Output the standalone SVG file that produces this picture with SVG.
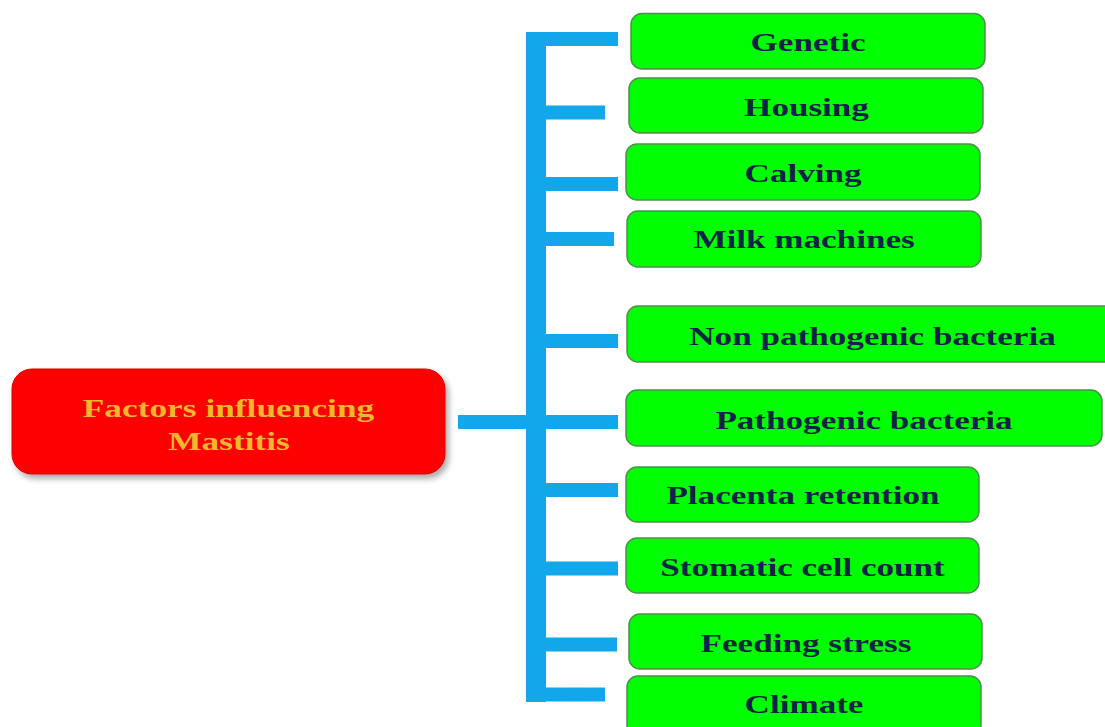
<svg xmlns="http://www.w3.org/2000/svg" width="1105" height="727" viewBox="0 0 1105 727">
<defs>
<filter id="shadow" x="-10%" y="-20%" width="125%" height="150%">
<feGaussianBlur in="SourceAlpha" stdDeviation="3"/>
<feOffset dx="3" dy="4" result="b"/>
<feComponentTransfer><feFuncA type="linear" slope="0.35"/></feComponentTransfer>
<feMerge><feMergeNode/><feMergeNode in="SourceGraphic"/></feMerge>
</filter>
</defs>
<style>
.box{fill:#00ff00;stroke:#4f8f4f;stroke-width:1.5}
.lbl{font-family:"Liberation Serif","Times New Roman",serif;font-weight:bold;font-size:26px;fill:#0f2346;text-anchor:middle}
.root{fill:#ff0000;stroke:#d40000;stroke-width:1}
.rlbl{font-family:"Liberation Serif","Times New Roman",serif;font-weight:bold;font-size:26px;fill:#f2b82c;text-anchor:middle}
.c{stroke:#12a6ea;stroke-width:14;fill:none}
</style>
<rect width="1105" height="727" fill="#ffffff"/>
<g id="connectors">
<line class="c" x1="536" y1="32" x2="536" y2="702" style="stroke-width:20"/>
<line class="c" x1="526" y1="39" x2="618" y2="39"/>
<line class="c" x1="526" y1="112.5" x2="605" y2="112.5"/>
<line class="c" x1="526" y1="184" x2="618" y2="184"/>
<line class="c" x1="526" y1="239" x2="614" y2="239"/>
<line class="c" x1="526" y1="341" x2="618" y2="341"/>
<line class="c" x1="458" y1="422" x2="618" y2="422"/>
<line class="c" x1="526" y1="490" x2="618" y2="490"/>
<line class="c" x1="526" y1="568.5" x2="618" y2="568.5"/>
<line class="c" x1="526" y1="644.5" x2="617" y2="644.5"/>
<line class="c" x1="526" y1="694.5" x2="605" y2="694.5"/>
</g>
<g id="root">
<rect class="root" x="12" y="369" width="433" height="105" rx="20" filter="url(#shadow)"/>
<text class="rlbl" transform="translate(228.5,416.5) scale(1.36,1)">Factors influencing</text>
<text class="rlbl" transform="translate(229,450) scale(1.36,1)">Mastitis</text>
</g>
<g id="genetic">
<rect class="box" x="631" y="13.5" width="354" height="55.5" rx="11"/>
<text class="lbl" transform="translate(808,51) scale(1.35,1)">Genetic</text>
</g>
<g id="housing">
<rect class="box" x="629" y="78" width="354" height="55" rx="11"/>
<text class="lbl" transform="translate(806.5,115.5) scale(1.35,1)">Housing</text>
</g>
<g id="calving">
<rect class="box" x="626" y="144" width="354" height="56" rx="11"/>
<text class="lbl" transform="translate(803,182) scale(1.35,1)">Calving</text>
</g>
<g id="milk-machines">
<rect class="box" x="627" y="211" width="354" height="56" rx="11"/>
<text class="lbl" transform="translate(804,248) scale(1.35,1)">Milk machines</text>
</g>
<g id="non-pathogenic">
<rect class="box" x="627" y="306" width="490" height="56" rx="11"/>
<text class="lbl" transform="translate(872.5,345) scale(1.35,1)">Non pathogenic bacteria</text>
</g>
<g id="pathogenic">
<rect class="box" x="626" y="390" width="476" height="56" rx="11"/>
<text class="lbl" transform="translate(864,429) scale(1.35,1)">Pathogenic bacteria</text>
</g>
<g id="placenta">
<rect class="box" x="626" y="467" width="353" height="55" rx="11"/>
<text class="lbl" transform="translate(803,504) scale(1.35,1)">Placenta retention</text>
</g>
<g id="stomatic">
<rect class="box" x="626" y="538" width="353" height="55" rx="11"/>
<text class="lbl" transform="translate(802.5,576) scale(1.35,1)">Stomatic cell count</text>
</g>
<g id="feeding">
<rect class="box" x="629" y="614" width="353" height="55" rx="11"/>
<text class="lbl" transform="translate(806,652) scale(1.35,1)">Feeding stress</text>
</g>
<g id="climate">
<rect class="box" x="627" y="676" width="354" height="60" rx="11"/>
<text class="lbl" transform="translate(804,713) scale(1.35,1)">Climate</text>
</g>
</svg>
